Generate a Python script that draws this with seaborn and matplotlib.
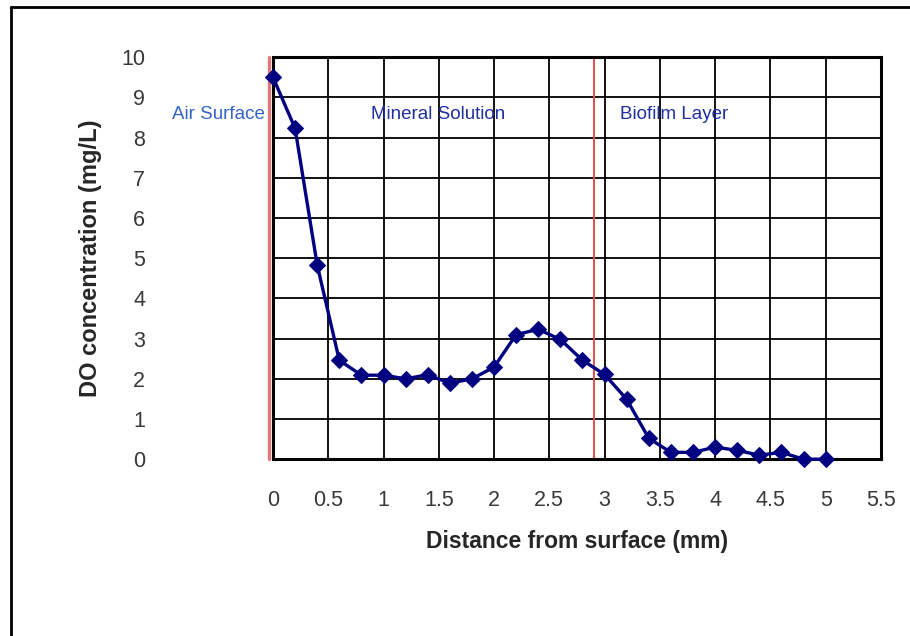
import pandas as pd
import matplotlib.pyplot as plt
import matplotlib.transforms as mtransforms
import seaborn as sns
from matplotlib.lines import Line2D

# distance from surface (mm) and dissolved oxygen (mg/L)
distance = [0.0, 0.2, 0.4, 0.6, 0.8, 1.0, 1.2, 1.4, 1.6, 1.8, 2.0, 2.2, 2.4,
            2.6, 2.8, 3.0, 3.2, 3.4, 3.6, 3.8, 4.0, 4.2, 4.4, 4.6, 4.8, 5.0]
do_conc = [9.5, 8.23, 4.83, 2.46, 2.09, 2.09, 2.0, 2.1, 1.89, 2.0, 2.29, 3.1,
           3.23, 2.98, 2.46, 2.11, 1.49, 0.52, 0.17, 0.17, 0.3, 0.22, 0.1,
           0.17, 0.0, 0.0]

boundaries = [0.0, 2.9]
zone_labels = ["Air Surface", "Mineral Solution", "Biofilm Layer"]
zone_x = [-0.07, 0.89, 3.14]
zone_y = 8.58

x_ticks = [0, 0.5, 1, 1.5, 2, 2.5, 3, 3.5, 4, 4.5, 5, 5.5]
x_tick_labels = ["0", "0.5", "1", "1.5", "2", "2.5", "3", "3.5", "4", "4.5", "5", "5.5"]
y_ticks = list(range(0, 11))

df = pd.DataFrame({"Distance": distance, "DO": do_conc})

sns.set_style("white")
plt.rcParams["font.family"] = ["Liberation Sans", "DejaVu Sans"]

fig = plt.figure(figsize=(9.1, 6.36), dpi=100)
ax = fig.add_axes([0.300, 0.278, 0.668, 0.632])

# outer frame of the chart area (cropped: only left and top visible)
fig.add_artist(Line2D([11 / 910, 11 / 910], [0, 1 - 7 / 636], transform=fig.transFigure,
                      color="black", lw=2))
fig.add_artist(Line2D([11 / 910, 1], [1 - 7 / 636, 1 - 7 / 636], transform=fig.transFigure,
                      color="black", lw=2))

# zone boundaries; the surface line sits just outside the left spine
shifted = mtransforms.offset_copy(ax.get_xaxis_transform(), fig=fig, x=-4, y=0, units="dots")
ax.plot([boundaries[0], boundaries[0]], [0, 1], color="#e07878", lw=2.4,
        transform=shifted, clip_on=False, zorder=2)
ax.axvline(boundaries[1], color="#e05050", lw=1.4, zorder=2)

sns.lineplot(data=df, x="Distance", y="DO", color="#000080", lw=2.4,
             marker="D", markersize=8.5, markeredgecolor="#000080", ax=ax, zorder=5)
for ln in ax.get_lines():
    ln.set_clip_on(False)

ax.set_xlim(0, 5.5)
ax.set_ylim(0, 10)
ax.set_xticks(x_ticks)
ax.set_xticklabels(x_tick_labels)
ax.set_yticks(y_ticks)
ax.grid(True, color="black", lw=1.3)
ax.set_axisbelow(True)
for s in ax.spines.values():
    s.set_color("black")
    s.set_linewidth(2.2)
    s.set_zorder(3)

ax.tick_params(axis="both", direction="out", length=4, width=1, color="black",
               labelsize=15.5, labelcolor="#383838")
ax.tick_params(axis="x", pad=18)
ax.tick_params(axis="y", pad=88)

ax.set_xlabel("Distance from surface (mm)", fontsize=16.5, fontweight="bold", labelpad=14)
ax.set_ylabel("DO concentration (mg/L)", fontsize=17, fontweight="bold", labelpad=14)

ax.text(zone_x[0], zone_y, zone_labels[0], color="#3464c4", fontsize=13.5,
        ha="right", va="center", clip_on=False)
ax.text(zone_x[1], zone_y, zone_labels[1], color="#1f2f9f", fontsize=13.5,
        ha="left", va="center")
ax.text(zone_x[2], zone_y, zone_labels[2], color="#1f2f9f", fontsize=13.5,
        ha="left", va="center")

fig.savefig("out.png", dpi=100)
